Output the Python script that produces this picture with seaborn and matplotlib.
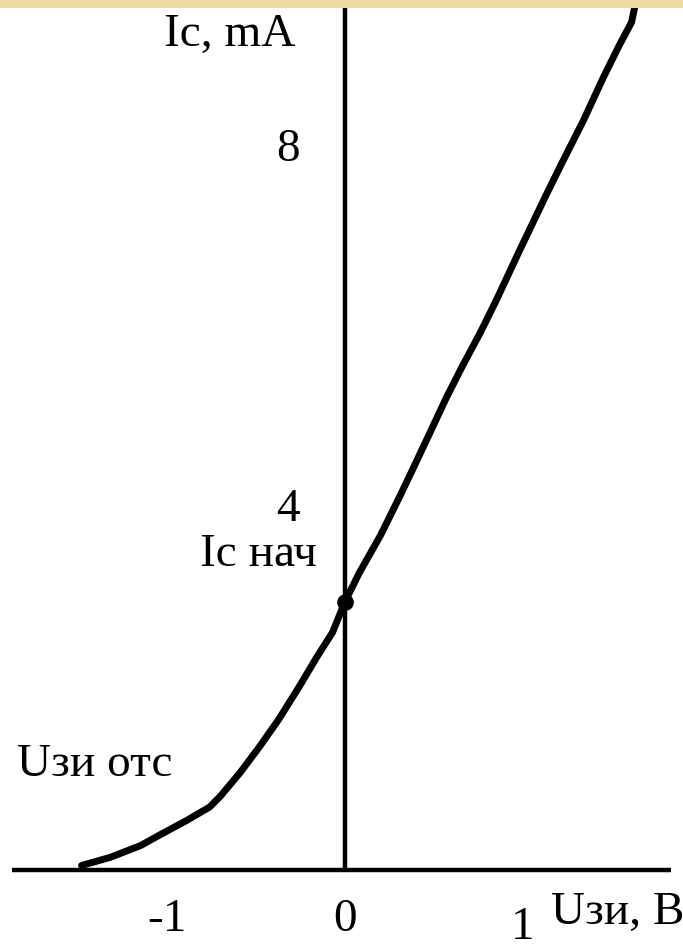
import matplotlib
matplotlib.use("Agg")
import matplotlib.pyplot as plt
import seaborn as sns
import pandas as pd

# Transfer characteristic of a field-effect transistor: drain current vs gate-source voltage
u_gs = [-1.48, -1.32, -1.15, -1.04, -0.89, -0.76, -0.70, -0.59, -0.48, -0.37,
        -0.25, -0.16, -0.07, 0.00, 0.08, 0.20, 0.31, 0.38, 0.48, 0.57,
        0.66, 0.76, 0.85, 0.98, 1.13, 1.22, 1.34, 1.45, 1.54, 1.61, 1.64]
i_d = [0.05, 0.14, 0.27, 0.39, 0.55, 0.70, 0.82, 1.08, 1.37, 1.68,
       2.06, 2.36, 2.64, 2.98, 3.30, 3.72, 4.16, 4.45, 4.87, 5.25,
       5.60, 5.97, 6.33, 6.88, 7.50, 7.86, 8.33, 8.80, 9.16, 9.42, 9.70]

x_ticks = [-1, 0, 1]
x_tick_labels = ["-1", "0", "1"]
y_ticks = [4, 8]
y_tick_labels = ["4", "8"]

# Initial drain current point at zero gate voltage
i_start_u = 0.0
i_start = 2.98

df = pd.DataFrame({"u": u_gs, "i": i_d})

sns.set_theme(style="white")
plt.rcParams["font.family"] = ["Liberation Serif", "DejaVu Serif"]

fig = plt.figure(figsize=(6.83, 9.52), dpi=100)
ax = fig.add_axes([0, 0, 1, 1])
ax.set_xlim(-1.938, 1.899)
ax.set_ylim(-0.911, 9.667)
ax.axis("off")

# Decorative band along the top edge
ax.axhspan(9.58, 9.667, color="#EFD9A3", zorder=5, lw=0)

# Coordinate axes
ax.hlines(0, -1.87, 1.83, color="black", lw=3.2, zorder=2)
ax.vlines(0, 0, 9.7, color="black", lw=3.2, zorder=2)

sns.lineplot(data=df, x="u", y="i", ax=ax, color="black", lw=5.0,
             sort=False, legend=False, zorder=3)
ax.plot([i_start_u], [i_start], "o", color="black", ms=11, zorder=4)

fs = 34
for xv, lab in zip(x_ticks, x_tick_labels):
    yoff = -0.64 if xv == 1 else -0.55
    ax.text(xv, yoff, lab, ha="center", va="center", fontsize=fs, color="black")
for yv, lab in zip(y_ticks, y_tick_labels):
    ax.text(-0.32, yv, lab, ha="center", va="center", fontsize=fs, color="black")

ax.text(-0.28, 9.28, "Ic, mA", ha="right", va="center", fontsize=fs, color="black")
ax.text(1.16, -0.47, "Uзи, В", ha="left", va="center", fontsize=fs, color="black")
ax.text(-0.16, 3.5, "Ic нач", ha="right", va="center", fontsize=fs, color="black")
ax.text(-1.84, 1.17, "Uзи отс", ha="left", va="center", fontsize=fs, color="black")

fig.savefig("out.png", dpi=100)
